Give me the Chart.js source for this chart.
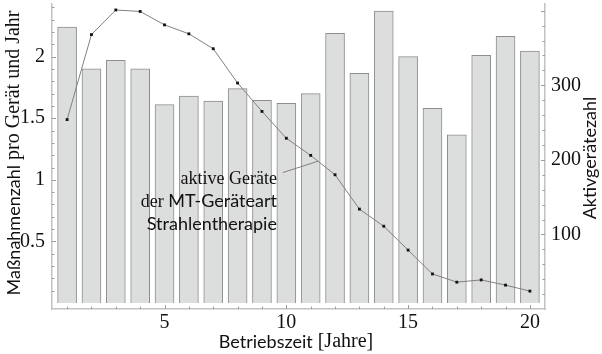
<!DOCTYPE html>
<html>
<head>
<meta charset="utf-8">
<script src="https://cdn.jsdelivr.net/npm/chart.js@4"></script>
<style>
  html, body { margin: 0; padding: 0; background: #fff; }
  canvas { display: block; }
</style>
</head>
<body>
<canvas id="chart" width="602" height="354"></canvas>
<script>
// Betriebszeit in Jahren
const years = [1, 2, 3, 4, 5, 6, 7, 8, 9, 10, 11, 12, 13, 14, 15, 16, 17, 18, 19, 20];
// Maßnahmenzahl pro Gerät und Jahr (Balken, linke Achse)
const measures = [2.24, 1.90, 1.97, 1.90, 1.61, 1.68, 1.64, 1.74, 1.645, 1.62,
                  1.70, 2.19, 1.865, 2.37, 2.00, 1.58, 1.365, 2.01, 2.165, 2.045];
// aktive Geräte (Linie, rechte Achse)
const activeDevices = [254, 368, 401, 399, 381, 369, 349, 303, 265, 229,
                       206, 180, 134, 111, 79, 47, 36, 39, 32, 24];

const xTicks = [5, 10, 15, 20];
const yTicks = [0.5, 1, 1.5, 2];
const y2Ticks = [100, 200, 300];

const SERIF = '"Liberation Serif", "DejaVu Serif", serif';
const SANS = 'Lato, "Open Sans", sans-serif';
const axisGrey = '#c2c2c2';
const tickGrey = '#9c9c9c';

// text made of pieces in different fonts
function drawRuns(ctx, runs, x, y, align) {
  const widths = runs.map(r => { ctx.font = r[1]; return ctx.measureText(r[0]).width; });
  const total = widths.reduce((a, b) => a + b, 0);
  let cx = align === 'right' ? x - total : align === 'center' ? x - total / 2 : x;
  ctx.textAlign = 'left';
  runs.forEach((r, i) => {
    ctx.font = r[1];
    ctx.fillText(r[0], cx, y);
    cx += widths[i];
  });
}

function tickRange(from, to, step) {
  const out = [];
  for (let v = from; v <= to + 1e-9; v += step) out.push(Math.round(v * 1000) / 1000);
  return out;
}

const decor = {
  id: 'decor',
  afterDraw(chart) {
    const { ctx, chartArea, scales: { x, y, y2 } } = chart;
    ctx.save();

    // inward tick marks
    ctx.strokeStyle = tickGrey;
    ctx.lineWidth = 1;
    ctx.beginPath();
    tickRange(0.1, 2.4, 0.1).forEach(v => {
      const py = Math.round(y.getPixelForValue(v)) + 0.5;
      const len = Math.abs(v * 2 - Math.round(v * 2)) < 1e-6 ? 4 : 2.5;
      ctx.moveTo(chartArea.left, py);
      ctx.lineTo(chartArea.left + len, py);
    });
    tickRange(20, 400, 20).forEach(v => {
      const py = Math.round(y2.getPixelForValue(v)) + 0.5;
      const len = v % 100 === 0 ? 4 : 2.5;
      ctx.moveTo(chartArea.right, py);
      ctx.lineTo(chartArea.right - len, py);
    });
    years.forEach(v => {
      const px = Math.round(x.getPixelForValue(v)) + 0.5;
      const len = v % 5 === 0 ? 4 : 2.5;
      ctx.moveTo(px, chartArea.bottom);
      ctx.lineTo(px, chartArea.bottom - len);
    });
    ctx.stroke();

    // annotation with leader line to the curve
    const tx = 11.3;
    const i = Math.floor(tx) - 1;
    const ty = activeDevices[i] + (activeDevices[i + 1] - activeDevices[i]) * (tx - years[i]);
    const sx = x.getPixelForValue(9.86);
    const sy = y2.getPixelForValue(183);
    ctx.strokeStyle = '#808080';
    ctx.beginPath();
    ctx.moveTo(sx, sy);
    ctx.lineTo(x.getPixelForValue(tx), y2.getPixelForValue(ty));
    ctx.stroke();

    ctx.fillStyle = '#111';
    ctx.textBaseline = 'alphabetic';
    const rx = sx - 6;
    drawRuns(ctx, [['aktive Geräte', '18px ' + SERIF]], rx, sy + 11, 'right');
    drawRuns(ctx, [['der', '18px ' + SERIF], [' MT-Geräteart', '18px ' + SANS]], rx, sy + 34, 'right');
    drawRuns(ctx, [['Strahlentherapie', '18px ' + SANS]], rx, sy + 57, 'right');

    // axis titles
    ctx.textBaseline = 'middle';
    ctx.save();
    ctx.translate(14, 153);
    ctx.rotate(-Math.PI / 2);
    drawRuns(ctx, [['Maßnahmenzahl', '18px ' + SANS], [' pro Gerät und Jahr', '20px ' + SERIF]], 0, 0, 'center');
    ctx.restore();

    ctx.save();
    ctx.translate(590, 158);
    ctx.rotate(-Math.PI / 2);
    drawRuns(ctx, [['Aktivgerätezahl', '18px ' + SANS]], 0, 0, 'center');
    ctx.restore();

    drawRuns(ctx, [['Betriebszeit', '18px ' + SANS], [' [Jahre]', '20px ' + SERIF]], 296, 342, 'center');

    ctx.restore();
  }
};

const tickFont = { family: SERIF, size: 20 };

function build() {
  new Chart(document.getElementById('chart'), {
    type: 'bar',
    data: {
      datasets: [
        {
          type: 'line',
          label: 'aktive Geräte',
          data: years.map((v, i) => ({ x: v, y: activeDevices[i] })),
          yAxisID: 'y2',
          borderColor: '#808080',
          borderWidth: 1,
          pointStyle: 'rect',
          pointRadius: 2,
          pointBorderWidth: 0,
          pointBackgroundColor: '#111',
          tension: 0,
          order: 0
        },
        {
          label: 'Maßnahmen',
          data: years.map((v, i) => ({ x: v, y: measures[i] })),
          yAxisID: 'y',
          backgroundColor: '#dcdddd',
          borderColor: '#8e8e8e',
          borderWidth: 1,
          barThickness: 19,
          order: 1
        }
      ]
    },
    options: {
      responsive: false,
      animation: false,
      devicePixelRatio: 1,
      layout: { padding: { top: 2, left: 0, right: 0, bottom: 0 } },
      plugins: { legend: { display: false }, tooltip: { enabled: false } },
      scales: {
        x: {
          type: 'linear',
          min: 0.38,
          max: 20.62,
          offset: false,
          grid: { display: false, drawTicks: false },
          border: { display: true, color: axisGrey, width: 1.5 },
          ticks: { font: tickFont, color: '#111', padding: 2, maxRotation: 0, autoSkip: false,
                   callback: v => String(v) },
          afterBuildTicks: s => { s.ticks = xTicks.map(v => ({ value: v })); },
          afterFit: s => { s.height = 45; s.paddingLeft = 0; s.paddingRight = 0; }
        },
        y: {
          position: 'left',
          min: -0.048,
          max: 2.427,
          grid: { display: false, drawTicks: false },
          border: { display: true, color: axisGrey, width: 1.5 },
          ticks: { font: tickFont, color: '#111', padding: 7, callback: v => String(v) },
          afterBuildTicks: s => { s.ticks = yTicks.map(v => ({ value: v })); },
          afterFit: s => { s.width = 52; s.paddingTop = 0; s.paddingBottom = 0; }
        },
        y2: {
          position: 'right',
          min: 0,
          max: 409,
          grid: { display: false, drawTicks: false },
          border: { display: true, color: axisGrey, width: 1.5 },
          ticks: { font: tickFont, color: '#111', padding: 6, callback: v => String(v) },
          afterBuildTicks: s => { s.ticks = y2Ticks.map(v => ({ value: v })); },
          afterFit: s => { s.width = 57; s.paddingTop = 0; s.paddingBottom = 0; }
        }
      }
    },
    plugins: [decor]
  });
}

Promise.all([
  document.fonts.load('18px Lato'),
  document.fonts.load('20px "Liberation Serif"')
]).then(build, build);
</script>
</body>
</html>
